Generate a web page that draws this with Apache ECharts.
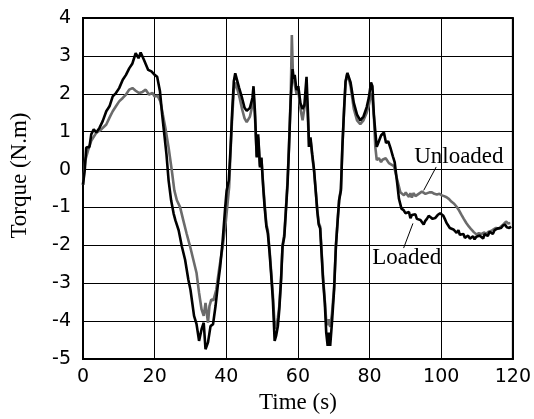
<!DOCTYPE html>
<html>
<head>
<meta charset="utf-8">
<script src="https://cdn.jsdelivr.net/npm/echarts@6/dist/echarts.min.js"></script>
<style>html,body{margin:0;padding:0;background:#fff;}#c{width:534px;height:419px;}</style>
</head>
<body>
<div id="c"></div>
<script>
const xTicks = [0, 20, 40, 60, 80, 100, 120];
const yTicks = [-5, -4, -3, -2, -1, 0, 1, 2, 3, 4];

const loadedTime = [0,0.5,0.9,1.8,2.3,3.0,3.7,4.6,5.5,6.5,7.4,8.3,9.2,10.1,11.1,12.0,12.9,13.8,14.7,15.5,16.1,17.0,18.2,19.1,20.0,20.7,21.5,22.1,22.7,23.3,23.9,24.6,25.3,25.8,26.7,27.6,28.5,29.4,30.0,31.0,31.7,32.4,33.1,33.7,34.2,34.9,35.6,36.3,37.0,37.6,38.3,39.0,39.7,40.1,40.7,41.2,41.6,42.1,42.5,43.0,43.6,44.4,45.1,45.7,46.6,47.3,47.6,48.0,48.5,48.9,49.4,49.8,50.3,50.7,51.2,51.6,52.1,52.5,53.0,53.5,53.9,54.4,54.8,55.3,55.7,56.2,56.6,57.1,57.5,58.0,58.5,58.8,59.1,59.6,60.1,60.7,61.3,61.8,62.4,62.8,63.1,63.5,64.0,64.5,65.0,65.4,65.8,66.2,66.6,67.0,67.5,67.9,68.3,68.6,69.0,69.5,70.1,70.6,71.1,71.5,72.0,72.4,72.9,73.3,73.8,74.2,74.7,75.6,76.5,77.4,78.3,79.2,79.8,80.4,80.8,81.2,81.6,82.0,82.6,83.2,84.0,84.6,85.2,85.9,86.5,87.0,87.7,88.2,88.9,89.5,90.0,90.5,91.0,91.4,91.8,92.3,92.8,93.2,93.7,94.2,94.7,95.1,95.5,96.0,96.5,97.0,97.6,98.3,99.0,99.7,100.2,100.6,101.0,101.5,102.0,102.4,102.9,103.4,103.8,104.3,104.8,105.2,105.7,106.2,106.6,107.0,107.5,108.0,108.4,108.9,109.3,109.8,110.3,110.7,111.2,111.7,112.1,112.6,113.0,113.5,113.9,114.4,114.9,115.3,115.8,116.2,116.7,117.2,117.8,118.3,119.0,119.5];
const loadedTorque = [-0.4,0.0,0.58,0.6,0.93,1.06,0.98,1.1,1.28,1.54,1.67,1.93,2.02,2.15,2.37,2.5,2.67,2.8,3.07,2.94,3.09,2.9,2.63,2.59,2.5,2.45,2.06,1.45,0.93,0.4,-0.29,-0.81,-1.16,-1.34,-1.6,-2.03,-2.38,-2.9,-3.17,-3.86,-4.08,-4.52,-4.21,-4.04,-4.74,-4.56,-4.13,-4.08,-3.6,-3.08,-2.56,-1.86,-0.99,-0.55,-0.29,0.58,1.45,2.33,2.54,2.54,2.15,1.89,1.63,1.55,1.63,1.89,2.2,1.54,0.32,0.93,0.06,0.32,-0.46,-0.99,-1.51,-1.68,-2.21,-2.73,-3.43,-4.52,-4.39,-4.13,-3.69,-2.9,-2.03,-1.77,-1.16,-0.38,0.58,1.89,2.65,2.4,2.5,2.1,2.2,1.75,1.6,1.7,2.45,1.5,0.6,0.85,0.4,0.0,-0.6,-1.1,-1.45,-1.55,-2.21,-2.9,-3.52,-4.3,-4.65,-4.3,-4.65,-4.04,-3.17,-2.03,-1.34,-0.81,-0.55,0.58,1.63,2.33,2.55,2.6,2.3,1.76,1.45,1.3,1.4,1.65,1.9,2.3,2.2,1.45,1.0,0.6,0.75,0.9,0.98,0.7,0.75,0.55,0.35,0.2,-0.35,-0.77,-1.03,-1.07,-1.15,-1.2,-1.12,-1.28,-1.2,-1.24,-1.18,-1.3,-1.25,-1.33,-1.38,-1.45,-1.36,-1.3,-1.22,-1.24,-1.3,-1.28,-1.2,-1.15,-1.2,-1.22,-1.3,-1.41,-1.48,-1.54,-1.5,-1.58,-1.62,-1.67,-1.6,-1.72,-1.75,-1.7,-1.8,-1.79,-1.74,-1.82,-1.8,-1.76,-1.84,-1.77,-1.8,-1.74,-1.78,-1.82,-1.7,-1.72,-1.75,-1.64,-1.67,-1.7,-1.6,-1.62,-1.55,-1.6,-1.54,-1.48,-1.45,-1.52,-1.54,-1.5];

const unloadedTime = [0,0.6,1.4,2.3,3.7,5.1,6.5,7.4,8.3,9.2,10.1,11.1,12.0,12.9,13.8,14.7,15.7,16.6,17.5,18.4,19.4,20.0,20.8,21.6,23.0,23.9,24.8,25.5,26.2,27.1,28.0,28.9,29.9,30.8,31.7,32.4,33.1,33.7,34.2,34.9,35.3,35.8,36.4,37.2,38.1,39.0,39.9,40.8,41.2,41.6,42.1,42.6,43.1,43.7,44.4,45.1,45.7,46.6,47.3,47.6,48.0,48.5,48.9,49.4,49.8,50.3,50.7,51.2,51.6,52.1,52.5,53.0,53.5,53.9,54.4,54.8,55.3,55.7,56.2,56.6,57.1,57.5,58.0,58.3,58.6,59.0,59.6,60.1,60.7,61.3,61.8,62.4,62.8,63.1,63.5,64.0,64.5,65.0,65.4,65.8,66.2,66.6,67.0,67.5,67.9,68.3,68.6,69.0,69.5,70.1,70.6,71.1,71.5,72.0,72.4,72.9,73.3,73.8,74.2,74.7,75.6,76.5,77.4,78.3,79.2,79.8,80.4,80.8,81.2,81.6,82.0,82.6,83.2,83.6,84.5,85.4,86.8,87.7,88.6,89.6,90.1,90.5,91.0,91.4,91.8,92.3,92.8,93.2,93.7,94.2,94.6,95.1,95.6,96.0,96.7,97.4,98.1,98.8,99.5,100.2,100.8,101.5,102.2,102.9,103.6,104.3,105.0,105.7,106.3,107.0,107.7,108.4,109.1,109.8,110.5,111.2,111.9,112.6,113.2,113.9,114.6,115.3,116.0,116.7,117.4,118.1,118.7,119.3];
const unloadedTorque = [-0.4,0.23,0.5,0.76,0.97,1.06,1.19,1.37,1.54,1.67,1.8,1.89,1.98,2.11,2.15,2.08,2.02,2.05,2.11,1.98,2.02,1.93,1.95,1.8,1.1,0.58,-0.03,-0.55,-0.81,-0.99,-1.34,-1.68,-2.03,-2.38,-2.73,-3.25,-3.69,-3.86,-3.52,-4.04,-3.6,-3.43,-3.45,-3.17,-2.56,-2.03,-1.34,-0.46,0.5,1.3,2.1,2.3,2.3,1.9,1.6,1.35,1.25,1.4,1.7,2.0,1.4,0.35,0.85,0.1,0.3,-0.4,-0.9,-1.45,-1.6,-2.15,-2.65,-3.3,-4.1,-4.2,-3.9,-3.6,-2.85,-2.0,-1.7,-1.1,-0.3,0.6,2.0,3.55,2.5,2.5,2.0,2.1,1.6,1.3,1.35,2.0,1.3,0.6,0.8,0.35,-0.05,-0.6,-1.05,-1.4,-1.5,-2.15,-2.8,-3.45,-4.0,-4.1,-3.95,-4.15,-3.8,-3.1,-2.0,-1.3,-0.8,-0.5,0.6,1.6,2.3,2.55,2.55,2.2,1.6,1.3,1.2,1.3,1.5,1.7,2.0,1.9,1.4,0.6,0.25,0.3,0.2,0.26,0.3,0.17,0.09,-0.26,-0.6,-0.68,-0.6,-0.66,-0.72,-0.62,-0.74,-0.62,-0.7,-0.73,-0.64,-0.66,-0.58,-0.56,-0.64,-0.65,-0.6,-0.6,-0.64,-0.66,-0.64,-0.68,-0.7,-0.73,-0.78,-0.85,-0.9,-0.98,-1.08,-1.2,-1.3,-1.41,-1.5,-1.58,-1.65,-1.71,-1.68,-1.7,-1.66,-1.69,-1.64,-1.62,-1.58,-1.54,-1.56,-1.5,-1.44,-1.37,-1.42,-1.41];

const unloadedLabelAt = [92.3, 0.34];
const unloadedLeader = [[98.6, 0.07], [95.1, -0.55]];
const loadedLabelAt = [80.6, -2.32];
const loadedLeader = [[92.1, -1.42], [89.5, -2.07]];

function pairs(t, v) { return t.map((x, i) => [x, v[i]]); }

const serif = 'Liberation Serif';
const sans = 'DejaVu Sans';

const chart = echarts.init(document.getElementById('c'), null, { renderer: 'canvas' });
chart.setOption({
  animation: false,
  backgroundColor: '#fff',
  grid: { left: 77, right: 21, top: 18, bottom: 57, show: true, borderColor: '#000', borderWidth: 2, backgroundColor: 'transparent' },
  xAxis: {
    type: 'value', min: xTicks[0], max: xTicks[xTicks.length - 1], interval: 20,
    name: 'Time (s)', nameLocation: 'middle', nameGap: 29,
    nameTextStyle: { fontFamily: serif, fontSize: 23, color: '#000' },
    axisLine: { show: true, onZero: false, lineStyle: { color: '#000', width: 2 } },
    axisTick: { show: false },
    axisLabel: { fontFamily: sans, fontSize: 19, color: '#000', margin: 8 },
    splitLine: { show: true, lineStyle: { color: '#000', width: 1 } }
  },
  yAxis: {
    type: 'value', min: yTicks[0], max: yTicks[yTicks.length - 1], interval: 1,
    name: 'Torque (N.m)', nameLocation: 'middle', nameGap: 52,
    nameTextStyle: { fontFamily: serif, fontSize: 23, color: '#000', padding: [0, 0, 0, 26] },
    axisLine: { show: true, onZero: false, lineStyle: { color: '#000', width: 2 } },
    axisTick: { show: false },
    axisLabel: { fontFamily: sans, fontSize: 19, color: '#000', margin: 12 },
    splitLine: { show: true, lineStyle: { color: '#000', width: 1 } }
  },
  series: [
    {
      name: 'Unloaded', type: 'line', data: pairs(unloadedTime, unloadedTorque),
      showSymbol: false, symbol: 'none', smooth: false,
      lineStyle: { color: '#6b6b6b', width: 2.6 }, z: 2
    },
    {
      name: 'Loaded', type: 'line', data: pairs(loadedTime, loadedTorque),
      showSymbol: false, symbol: 'none', smooth: false,
      lineStyle: { color: '#000', width: 2.6 }, z: 3,
      markLine: {
        silent: true, symbol: ['none', 'none'], animation: false,
        lineStyle: { color: '#000', width: 1, type: 'solid' },
        label: { show: false },
        data: [
          [{ coord: unloadedLeader[0] }, { coord: unloadedLeader[1] }],
          [{ coord: loadedLeader[0] }, { coord: loadedLeader[1] }]
        ]
      },
      markPoint: {
        silent: true, symbol: 'circle', symbolSize: 1, animation: false,
        itemStyle: { color: 'rgba(0,0,0,0)' },
        label: { show: true, position: 'right', distance: 0, fontFamily: serif, fontSize: 23, color: '#000' },
        data: [
          { coord: unloadedLabelAt, label: { formatter: 'Unloaded' } },
          { coord: loadedLabelAt, label: { formatter: 'Loaded' } }
        ]
      }
    }
  ]
});
</script>
</body>
</html>
